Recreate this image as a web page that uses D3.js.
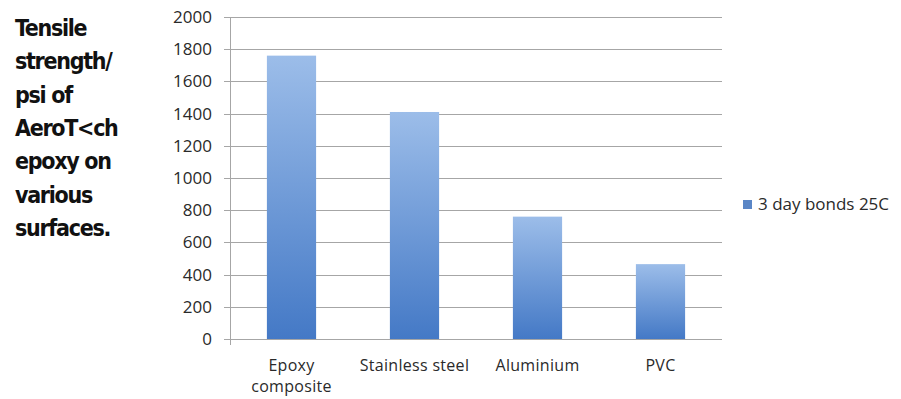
<!DOCTYPE html>
<html>
<head>
<meta charset="utf-8">
<script src="https://cdn.jsdelivr.net/npm/d3@7"></script>
<style>
  body { margin: 0; background: #fff; }
  svg { display: block; }
</style>
</head>
<body>
<script>
const width = 901;
const height = 399;

const categories = ['Epoxy composite', 'Stainless steel', 'Aluminium', 'PVC'];
const bonds25C = [1760, 1410, 760, 465];
const seriesName = '3 day bonds 25C';
const yTicks = [0, 200, 400, 600, 800, 1000, 1200, 1400, 1600, 1800, 2000];
const titleLines = ['Tensile', 'strength/', 'psi of', 'AeroT<ch', 'epoxy on', 'various', 'surfaces.'];

const margin = {left: 230, right: 179, top: 17, bottom: 60};
const labelFont = '"Open Sans", Lato, sans-serif';

const svg = d3.select('body').append('svg')
    .attr('width', width)
    .attr('height', height);

const defs = svg.append('defs');
const grad = defs.append('linearGradient')
    .attr('id', 'barGrad')
    .attr('x1', 0).attr('y1', 0).attr('x2', 0).attr('y2', 1);
grad.append('stop').attr('offset', '0%').attr('stop-color', '#9cbde9');
grad.append('stop').attr('offset', '100%').attr('stop-color', '#4479c6');

const x = d3.scaleBand()
    .domain(categories)
    .range([margin.left, width - margin.right])
    .paddingInner(0.6)
    .paddingOuter(0.3);

const y = d3.scaleLinear()
    .domain([0, 2000])
    .range([height - margin.bottom, margin.top]);

// gridlines
svg.append('g')
    .attr('stroke', '#a6a6a6')
    .attr('stroke-width', 1)
    .selectAll('line')
    .data(yTicks)
    .enter().append('line')
    .attr('x1', margin.left - 6)
    .attr('x2', width - margin.right)
    .attr('y1', d => Math.round(y(d)) + 0.5)
    .attr('y2', d => Math.round(y(d)) + 0.5);

// y axis line
svg.append('line')
    .attr('x1', margin.left + 0.5).attr('x2', margin.left + 0.5)
    .attr('y1', y(2000)).attr('y2', y(0) + 6)
    .attr('stroke', '#a6a6a6');

// y tick labels
svg.append('g')
    .attr('font-family', labelFont)
    .attr('font-size', 17)
    .attr('fill', '#2a2a2a')
    .attr('text-anchor', 'end')
    .selectAll('text')
    .data(yTicks)
    .enter().append('text')
    .attr('x', 212)
    .attr('y', d => y(d))
    .attr('dy', '0.35em')
    .text(d => d);

// bars
svg.append('g')
    .selectAll('rect')
    .data(bonds25C)
    .enter().append('rect')
    .attr('x', (d, i) => x(categories[i]))
    .attr('width', x.bandwidth())
    .attr('y', d => y(d))
    .attr('height', d => y(0) - y(d))
    .attr('fill', 'url(#barGrad)');

// category labels
const catG = svg.append('g')
    .attr('font-family', labelFont)
    .attr('font-size', 16)
    .attr('letter-spacing', 0.3)
    .attr('fill', '#2a2a2a')
    .attr('text-anchor', 'middle');
categories.forEach(c => {
    const words = c === 'Epoxy composite' ? ['Epoxy', 'composite'] : [c];
    const t = catG.append('text')
        .attr('x', x(c) + x.bandwidth() / 2)
        .attr('y', 371);
    words.forEach((w, i) => {
        t.append('tspan')
            .attr('x', x(c) + x.bandwidth() / 2)
            .attr('dy', i === 0 ? 0 : 21)
            .text(w);
    });
});

// legend
const leg = svg.append('g').attr('transform', 'translate(743,200)');
leg.append('rect').attr('width', 9).attr('height', 9).attr('fill', '#5a86c6');
leg.append('text')
    .attr('x', 15).attr('y', 4.5)
    .attr('dy', '0.35em')
    .attr('font-family', labelFont)
    .attr('font-size', 17)
    .attr('fill', '#2a2a2a')
    .text(seriesName);

// title on the left
svg.append('g')
    .attr('font-family', '"DejaVu Sans Condensed", "Liberation Sans Narrow", sans-serif')
    .attr('font-stretch', 'condensed')
    .attr('font-weight', 'bold')
    .attr('font-size', 23)
    .attr('letter-spacing', -1.3)
    .attr('fill', '#111')
    .selectAll('text')
    .data(titleLines)
    .enter().append('text')
    .attr('x', 15)
    .attr('y', (d, i) => 36 + i * 33.3)
    .text(d => d);
</script>
</body>
</html>
